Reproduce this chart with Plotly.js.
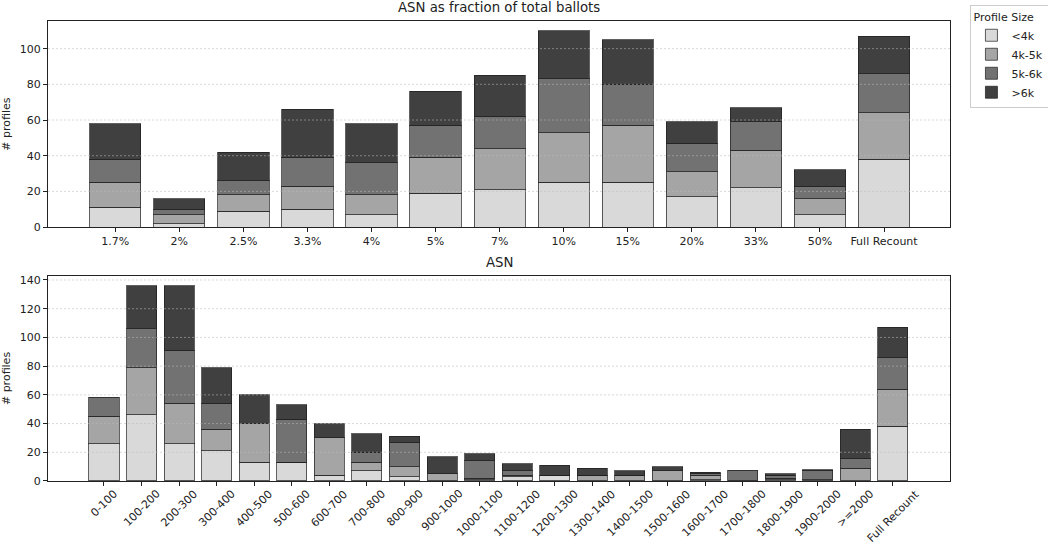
<!DOCTYPE html>
<html>
<head>
<meta charset="utf-8">
<script src="https://cdn.plot.ly/plotly-3.0.1.min.js"></script>
<style>
html,body{margin:0;padding:0;background:#fff;}
#chart{width:1048px;height:546px;}
</style>
</head>
<body>
<div id="chart"></div>
<script>
// ---- data ----
const seriesNames = ['<4k', '4k-5k', '5k-6k', '>6k'];
const seriesColors = ['#d9d9d9', '#a5a5a5', '#727272', '#404040'];

const fracCategories = ['1.7%', '2%', '2.5%', '3.3%', '4%', '5%', '7%', '10%', '15%', '20%', '33%', '50%', 'Full Recount'];
const fracLt4k   = [11, 2, 9, 10, 7, 19, 21, 25, 25, 17, 22, 7, 38];
const frac4k5k   = [14, 5, 9, 13, 11, 20, 23, 28, 32, 14, 21, 9, 26];
const frac5k6k   = [13, 3, 8, 16, 18, 18, 18, 30, 23, 16, 16, 7, 22];
const fracGt6k   = [20, 6, 16, 27, 22, 19, 23, 27, 25, 12, 8, 9, 21];

const asnCategories = ['0-100', '100-200', '200-300', '300-400', '400-500', '500-600', '600-700', '700-800',
  '800-900', '900-1000', '1000-1100', '1100-1200', '1200-1300', '1300-1400', '1400-1500', '1500-1600',
  '1600-1700', '1700-1800', '1800-1900', '1900-2000', '>=2000', 'Full Recount'];
const asnLt4k = [26, 46, 26, 21, 13, 13, 4, 7, 3, 0, 1, 3, 4, 0, 0, 0, 1, 0, 1, 0, 0, 38];
const asn4k5k = [19, 33, 28, 15, 27, 0, 26, 6, 7, 5, 1, 1, 0, 4, 4, 7, 3, 0, 1, 1, 9, 26];
const asn5k6k = [13, 27, 37, 18, 0, 30, 0, 7, 17, 0, 12, 3, 0, 0, 0, 0, 1, 7, 2, 6, 7, 22];
const asnGt6k = [0, 30, 45, 25, 20, 10, 10, 13, 4, 12, 5, 5, 7, 5, 3, 3, 1, 0, 1, 1, 20, 21];

const topTicks = [0, 20, 40, 60, 80, 100];
const bottomTicks = [0, 20, 40, 60, 80, 100, 120, 140];

// ---- traces ----
const fracSeries = [fracLt4k, frac4k5k, frac5k6k, fracGt6k];
const asnSeries = [asnLt4k, asn4k5k, asn5k6k, asnGt6k];
const traces = [];
fracSeries.forEach((vals, i) => {
  traces.push({
    type: 'bar', x: fracCategories, y: vals, name: seriesNames[i],
    xaxis: 'x', yaxis: 'y', legendgroup: seriesNames[i],
    marker: {color: seriesColors[i], line: {color: 'rgba(30,30,30,0.7)', width: 1}},
    hoverinfo: 'x+y+name'
  });
});
asnSeries.forEach((vals, i) => {
  traces.push({
    type: 'bar', x: asnCategories, y: vals, name: seriesNames[i],
    xaxis: 'x2', yaxis: 'y2', legendgroup: seriesNames[i], showlegend: false,
    marker: {color: seriesColors[i], line: {color: 'rgba(30,30,30,0.7)', width: 1}},
    hoverinfo: 'x+y+name'
  });
});

// grid lines drawn above the bars (as in the reference)
const gridLine = {color: 'rgba(185,185,185,0.55)', width: 1, dash: '2px,2px'};
const shapes = [];
topTicks.slice(1).forEach(v => shapes.push({type: 'line', xref: 'x domain', yref: 'y', x0: 0, x1: 1, y0: v, y1: v,
  layer: 'above', line: gridLine}));
bottomTicks.slice(1).forEach(v => shapes.push({type: 'line', xref: 'x2 domain', yref: 'y2', x0: 0, x1: 1, y0: v, y1: v,
  layer: 'above', line: gridLine}));

const axisFont = {family: 'DejaVu Sans', size: 11, color: '#222'};
const baseAxis = {
  showline: true, mirror: true, linecolor: '#222', linewidth: 1,
  ticks: 'outside', ticklen: 4, tickcolor: '#222', tickfont: axisFont,
  showgrid: false, zeroline: false, fixedrange: true
};

// rotated category labels of the lower chart, centred under each tick
const annotations = [
  {text: 'ASN as fraction of total ballots', xref: 'paper', yref: 'paper', x: 0.5, y: 1,
   xanchor: 'center', yanchor: 'bottom', yshift: 4, showarrow: false,
   font: {family: 'DejaVu Sans', size: 13.3, color: '#222'}},
  {text: 'ASN', xref: 'paper', yref: 'paper', x: 0.5, y: 0.4457,
   xanchor: 'center', yanchor: 'bottom', yshift: 4, showarrow: false,
   font: {family: 'DejaVu Sans', size: 13.3, color: '#222'}}
];
asnCategories.forEach(c => annotations.push({
  text: c.replace('>', '&gt;'), xref: 'x2', yref: 'paper', x: c, y: 0,
  xanchor: 'center', yanchor: 'top', yshift: -5, textangle: -45, showarrow: false,
  font: axisFont, borderpad: 0
}));

const layout = {
  width: 1048, height: 546,
  margin: {l: 48, r: 98, t: 21, b: 65, autoexpand: false},
  paper_bgcolor: '#fff', plot_bgcolor: '#fff',
  font: {family: 'DejaVu Sans', size: 11, color: '#222'},
  barmode: 'stack', bargap: 0.2,
  showlegend: true,
  legend: {
    xref: 'container', yref: 'container',
    x: 0.926, y: 0.99, xanchor: 'left', yanchor: 'top',
    title: {text: 'Profile Size', font: {family: 'DejaVu Sans', size: 11, color: '#222'}},
    font: {family: 'DejaVu Sans', size: 11, color: '#222'},
    bordercolor: '#cccccc', borderwidth: 1, bgcolor: '#fff',
    tracegroupgap: 0, itemwidth: 30
  },
  xaxis: Object.assign({}, baseAxis, {
    domain: [0, 1], anchor: 'y', type: 'category', range: [-1.05, 13.03],
    tickangle: 0
  }),
  yaxis: Object.assign({}, baseAxis, {
    domain: [0.552, 1], anchor: 'x', range: [0, 115.5],
    tickvals: topTicks,
    title: {text: '# profiles', font: {family: 'DejaVu Sans', size: 11, color: '#222'}, standoff: 7}
  }),
  xaxis2: Object.assign({}, baseAxis, {
    domain: [0, 1], anchor: 'y2', type: 'category', range: [-1.49, 22.52],
    showticklabels: false
  }),
  yaxis2: Object.assign({}, baseAxis, {
    domain: [0, 0.4457], anchor: 'x2', range: [0, 142.8],
    tickvals: bottomTicks,
    title: {text: '# profiles', font: {family: 'DejaVu Sans', size: 11, color: '#222'}, standoff: 7}
  }),
  shapes: shapes,
  annotations: annotations
};

Plotly.newPlot('chart', traces, layout, {displayModeBar: false, staticPlot: true});
</script>
</body>
</html>
